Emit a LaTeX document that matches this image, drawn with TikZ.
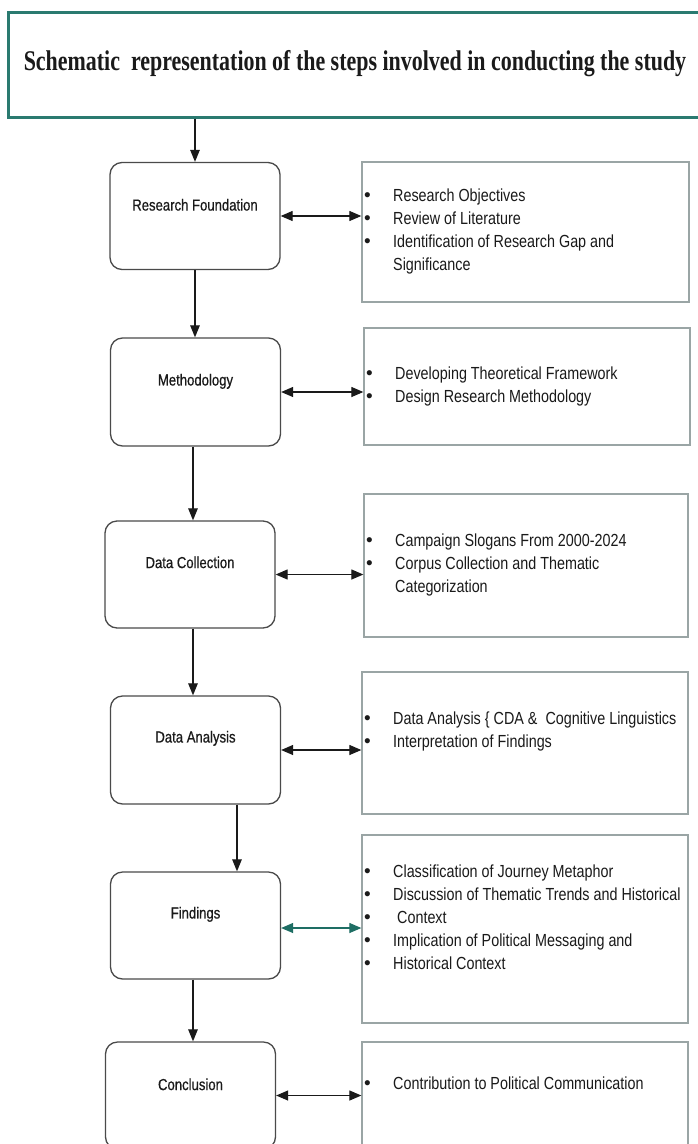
\documentclass[tikz,border=0pt]{standalone}
\usepackage{fontspec}
\setmainfont{Liberation Sans}
\newfontfamily\narrowf[FakeStretch=0.82]{Liberation Sans}
\newfontfamily\lblf[FakeStretch=0.82,FakeBold=0.6]{Liberation Sans}
\newfontfamily\titlef[FakeStretch=0.77]{Liberation Serif}
\usetikzlibrary{arrows.meta}
\definecolor{tealA}{HTML}{2A7A70}
\definecolor{tealB}{HTML}{1E6E64}
\definecolor{boxgray}{HTML}{4A4A4A}
\definecolor{rgray}{HTML}{9AA5A5}
\definecolor{ink}{HTML}{1A1A1A}
\newcommand{\bulitem}{\makebox[30pt][l]{\hspace*{1pt}{\rmfamily\fontsize{19}{23}\selectfont •}}}
\newcommand{\contitem}{\hspace*{30pt}}
\tikzset{
  titlebox/.style={draw=tealA, line width=3pt, minimum width=720pt, minimum height=105pt, inner sep=0pt},
  titletxt/.style={font=\titlef\bfseries\fontsize{28.5}{32}\selectfont, text=ink, inner sep=0pt},
  lbox/.style={draw=boxgray, line width=1.3pt, rounded corners=12pt, minimum width=170pt, minimum height=107pt, inner sep=0pt},
  lbl/.style={font=\lblf\fontsize{16}{19}\selectfont, text=ink, inner sep=0pt},
  rbox/.style={draw=rgray, line width=1.3pt, inner sep=0pt},
  rtxt/.style={anchor=west, align=left, inner sep=0pt, font=\narrowf\fontsize{17.5}{23}\selectfont, text=ink},
  arr/.style={draw=ink, line width=1.2pt, -{Triangle[length=12pt,width=9.5pt]}},
  dbl/.style={draw=ink, line width=1.2pt, {Triangle[length=12pt,width=10pt]}-{Triangle[length=12pt,width=10pt]}},
  dblteal/.style={draw=tealB, fill=tealB, line width=1.2pt, {Triangle[length=12pt,width=10pt]}-{Triangle[length=12pt,width=10pt]}}
}
\begin{document}
\begin{tikzpicture}[x=1pt,y=-1pt]
\useasboundingbox (0,0) rectangle (698,1144);
\clip (0,0) rectangle (698,1144);
\fill[white] (0,0) rectangle (698,1144);

% title
\node[titlebox] (title) at (368,64.5) {};
\node[titletxt] (ttext) at (355,64) {Schematic\ \ representation of the steps involved in conducting the study};

% left boxes
\node[lbox] (rf)   at (195,216)    {};
\node[lbox, minimum height=108pt] (meth) at (195.5,392) {};
\node[lbox] (dc)   at (190,574.5)  {};
\node[lbox, minimum height=108pt] (da)   at (195.5,750) {};
\node[lbox] (find) at (195.5,925.5) {};
\node[lbox] (conc) at (190.5,1095.5) {};

\node[lbl] (lrf)   at ([yshift=-43pt]rf.north)   {Research Foundation};
\node[lbl] (lmeth) at ([yshift=-44pt]meth.north) {Methodology};
\node[lbl] (ldc)   at ([yshift=-42pt]dc.north)   {Data Collection};
\node[lbl] (lda)   at ([yshift=-43pt]da.north)   {Data Analysis};
\node[lbl] (lfind) at ([yshift=-43pt]find.north) {Findings};
\node[lbl] (lconc) at ([yshift=-43pt]conc.north) {Conclusion};

% right boxes
\node[rbox, minimum width=327pt, minimum height=140pt] (rb1) at (525.5,232) {};
\node[rbox, minimum width=326pt, minimum height=117pt] (rb2) at (527,386.5) {};
\node[rbox, minimum width=324pt, minimum height=143pt] (rb3) at (526,565.5) {};
\node[rbox, minimum width=326pt, minimum height=142pt] (rb4) at (525,743) {};
\node[rbox, minimum width=326pt, minimum height=188pt] (rb5) at (525,929) {};
\node[rbox, minimum width=326pt, minimum height=118pt] (rb6) at (525,1101) {};

\node[rtxt] (t1) at (363,231.5) {\bulitem Research Objectives\\ \bulitem Review of Literature\\ \bulitem Identification of Research Gap and\\ \contitem Significance};
\node[rtxt] (t2) at (365,386.5) {\bulitem Developing Theoretical Framework\\ \bulitem Design Research Methodology};
\node[rtxt] (t3) at (365,565) {\bulitem Campaign Slogans From 2000-2024\\ \bulitem Corpus Collection and Thematic\\ \contitem Categorization};
\node[rtxt] (t4) at (363,731.5) {\bulitem Data Analysis \{ CDA \&\ \ Cognitive Linguistics\\ \bulitem Interpretation of Findings};
\node[rtxt] (t5) at (363,917.4) {\bulitem Classification of Journey Metaphor\\ \bulitem Discussion of Thematic Trends and Historical\\ \bulitem\hspace*{4pt}Context\\ \bulitem Implication of Political Messaging and\\ \bulitem Historical Context};
\node[rtxt] (t6) at (363,1083) {\bulitem Contribution to Political Communication};

% vertical arrows
\coordinate (c193) at (193,0);
\coordinate (c237) at (237,0);
\draw[arr] (title.south -| rf.north) -- (rf.north);
\draw[arr] (rf.south) -- (rf.south |- meth.north);
\draw[arr] (meth.south -| c193) -- (dc.north -| c193);
\draw[arr] (dc.south -| c193) -- (da.north -| c193);
\draw[arr] (da.south -| c237) -- (find.north -| c237);
\draw[arr] (find.south -| c193) -- (conc.north -| c193);

% horizontal double arrows
\draw[dbl] (rf.east) -- (rf.east -| rb1.west);
\draw[dbl] (meth.east) -- (meth.east -| rb2.west);
\draw[dbl] (dc.east) -- (dc.east -| rb3.west);
\draw[dbl] (da.east) -- (da.east -| rb4.west);
\draw[dblteal] ([yshift=-2.5pt]find.east) -- ([yshift=-2.5pt]find.east -| rb5.west);
\draw[dbl] (conc.east) -- (conc.east -| rb6.west);
\end{tikzpicture}
\end{document}
